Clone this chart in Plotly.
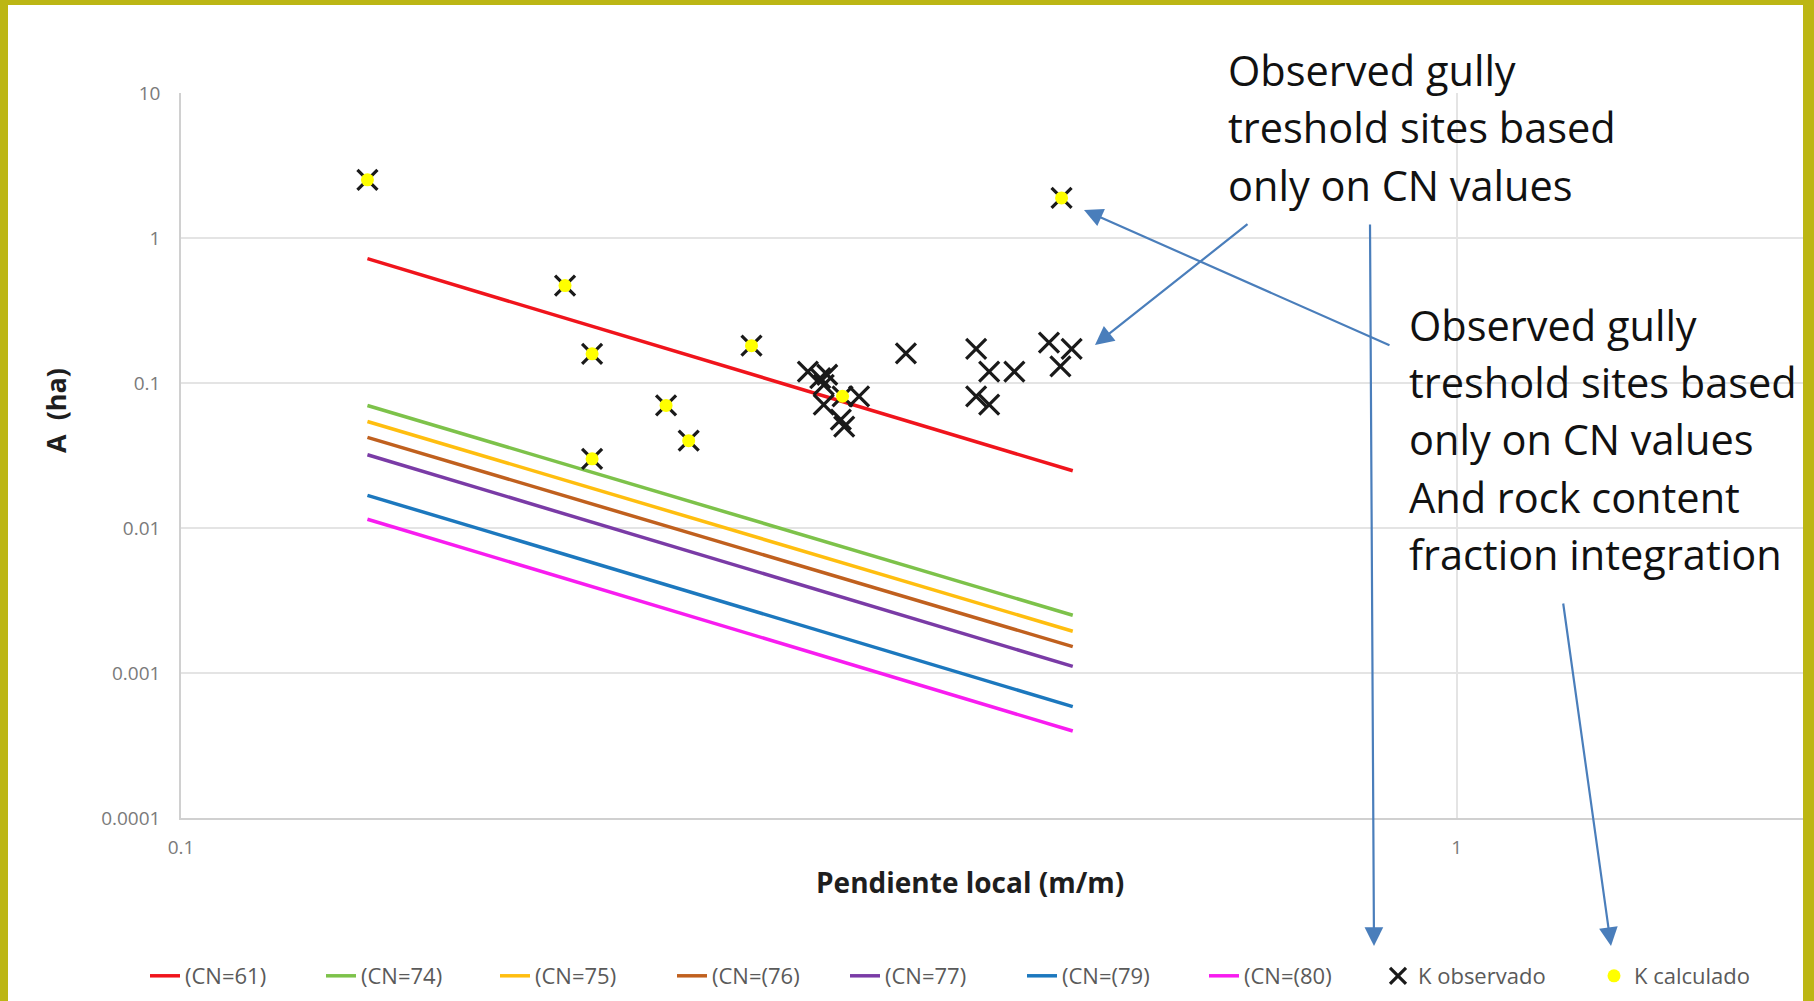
import plotly.graph_objects as go

# ---------------- data ----------------
line_names = ["(CN=61)", "(CN=74)", "(CN=75)", "(CN=(76)", "(CN=77)", "(CN=(79)", "(CN=(80)"]
line_x = [0.14, 0.50]
cn61 = [0.72, 0.0248]
cn74 = [0.070, 0.0025]
cn75 = [0.0543, 0.00194]
cn76 = [0.0422, 0.00152]
cn77 = [0.0320, 0.00111]
cn79 = [0.0168, 0.000586]
cn80 = [0.0115, 0.000398]
line_values = [cn61, cn74, cn75, cn76, cn77, cn79, cn80]

slope_obs = [0.14, 0.20, 0.21, 0.21, 0.24, 0.25, 0.28, 0.31, 0.317, 0.321, 0.319, 0.319,
             0.33, 0.34, 0.329, 0.331, 0.37, 0.42, 0.43, 0.45, 0.42, 0.43, 0.479, 0.499,
             0.489, 0.49]
area_obs = [2.52, 0.47, 0.159, 0.030, 0.070, 0.040, 0.181, 0.120, 0.108, 0.114, 0.097, 0.071,
            0.081, 0.081, 0.056, 0.050, 0.160, 0.172, 0.120, 0.120, 0.081, 0.071, 0.19, 0.172,
            0.130, 1.89]

slope_calc = [0.14, 0.20, 0.21, 0.21, 0.24, 0.25, 0.28, 0.33, 0.49]
area_calc = [2.52, 0.47, 0.159, 0.030, 0.070, 0.040, 0.181, 0.081, 1.89]

y_tickvals = [10, 1, 0.1, 0.01, 0.001, 0.0001]
y_ticktext = ["10", "1", "0.1", "0.01", "0.001", "0.0001"]
x_tickvals = [0.1, 1]
x_ticktext = ["0.1", "1"]

# ---------------- styles ----------------
W, H = 1814, 1001
ML, MR, MT, MB = 181, 11, 93, 183
PW, PH = W - ML - MR, H - MT - MB

def px(X):
    return (X - ML) / PW

def py(Y):
    return (H - MB - Y) / PH

line_colors = ["#F0141C", "#7DC24A", "#FFBE0F", "#C0601E", "#7A3BA6", "#1C78BE", "#F81CF0"]
legend_widths = [131, 129, 132, 128, 132, 137, 129]
BORDER = "#BCB614"
ARROW = "#4A7EBB"

fig = go.Figure()
for name, vals, col, lw in zip(line_names, line_values, line_colors, legend_widths):
    fig.add_trace(go.Scatter(x=line_x, y=vals, mode="lines", name=name,
                             line=dict(color=col, width=3.5), legendwidth=lw))

fig.add_trace(go.Scatter(x=slope_obs, y=area_obs, mode="markers", name="K observado",
                         marker=dict(symbol="x-thin", size=20,
                                     line=dict(color="#1a1a1a", width=3.2)),
                         legendwidth=171))
fig.add_trace(go.Scatter(x=slope_calc, y=area_calc, mode="markers", name="K calculado",
                         marker=dict(symbol="circle", size=13, color="#FFFF00",
                                     line=dict(width=0)),
                         legendwidth=130))

tick_font = dict(family="Open Sans", size=19, color="#7a7a7a")
fig.update_xaxes(type="log", range=[-1, -1 + PW / 1275.8], tickvals=x_tickvals,
                 ticktext=x_ticktext, showgrid=True, gridcolor="#E4E4E4", gridwidth=1.5,
                 showline=True, linecolor="#D0D0D0", linewidth=1.5, zeroline=False,
                 tickfont=tick_font, ticks="", ticklabelstandoff=11)
fig.update_yaxes(type="log", range=[-4, 1], tickvals=y_tickvals, ticktext=y_ticktext,
                 showgrid=True, gridcolor="#E4E4E4", gridwidth=1.5,
                 showline=True, linecolor="#D0D0D0", linewidth=1.5, zeroline=False,
                 tickfont=tick_font, ticks="", ticklabelstandoff=15)

big = dict(family="Open Sans", size=41.5, color="#111111")
annotations = []
block1 = ["Observed gully", "treshold sites based", "only on CN values"]
block2 = ["Observed gully", "treshold sites based", "only on CN values",
          "And rock content", "fraction integration"]
for i, t in enumerate(block1):
    annotations.append(dict(text=t, x=px(1226), y=py(70 + 57.5 * i), xref="paper", yref="paper",
                            xanchor="left", yanchor="middle", showarrow=False, font=big))
for i, t in enumerate(block2):
    annotations.append(dict(text=t, x=px(1407), y=py(325 + 57.2 * i), xref="paper", yref="paper",
                            xanchor="left", yanchor="middle", showarrow=False, font=big))

arrows = [((1249, 223), (1095, 345)),
          ((1391, 346), (1084, 210)),
          ((1370, 223), (1374, 946)),
          ((1563, 602), (1611, 946))]
for (tx, ty), (hx, hy) in arrows:
    annotations.append(dict(text="", x=px(hx), y=py(hy), xref="paper", yref="paper",
                            ax=tx - hx, ay=ty - hy, axref="pixel", ayref="pixel",
                            showarrow=True, arrowhead=2, arrowsize=1.7, arrowwidth=2.2,
                            arrowcolor=ARROW, standoff=0))

annotations.append(dict(text="Pendiente local (m/m)", x=px(970), y=py(882), xref="paper",
                        yref="paper", xanchor="center", yanchor="middle", showarrow=False,
                        font=dict(family="Open Sans", size=28, color="#1e1e1e", weight="bold")))
annotations.append(dict(text="A\u00a0 (ha)", x=px(55), y=py(411), xref="paper", yref="paper",
                        xanchor="center", yanchor="middle", showarrow=False, textangle=-90,
                        font=dict(family="Open Sans", size=27, color="#1e1e1e", weight="bold")))

shapes = [dict(type="rect", xref="paper", yref="paper", x0=px(8), x1=px(1803),
               y0=py(H + 20), y1=py(5), fillcolor="white", line=dict(width=0), layer="below")]

fig.update_layout(
    width=W, height=H, autosize=False,
    margin=dict(l=ML, r=MR, t=MT, b=MB, pad=0, autoexpand=False),
    paper_bgcolor=BORDER, plot_bgcolor="white",
    showlegend=True,
    legend=dict(orientation="h", x=px(145), xanchor="left", y=py(976), yanchor="middle",
                font=dict(family="Open Sans", size=22, color="#5a5a5a"),
                bgcolor="rgba(0,0,0,0)", borderwidth=0, itemsizing="trace"),
    annotations=annotations, shapes=shapes,
)

fig.write_html("out.html", config={"displayModeBar": False},
               post_script="document.body.style.margin='0px';")
